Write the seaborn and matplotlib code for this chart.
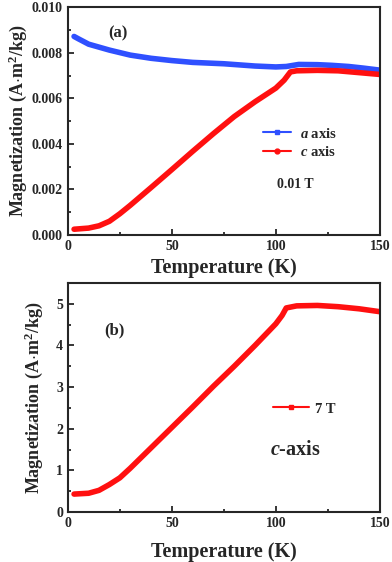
import numpy as np
import pandas as pd
import matplotlib
matplotlib.use("Agg")
import matplotlib.pyplot as plt
import seaborn as sns
from matplotlib.lines import Line2D
from matplotlib.ticker import MultipleLocator

# ---------------- data ----------------
temp_a = [3, 5, 10, 15, 20, 30, 40, 50, 60, 75, 90, 100, 105, 111, 120, 127, 135, 142, 150]
mag_a = [0.00872, 0.00862, 0.00838, 0.00825, 0.00812, 0.00790, 0.00776, 0.00766, 0.00758,
         0.00752, 0.00742, 0.00738, 0.00740, 0.00749, 0.00748, 0.00745, 0.00740, 0.00733, 0.00724]

temp_c = [3, 10, 15, 20, 25, 30, 40, 50, 60, 70, 80, 90, 100, 104, 107, 110, 120, 130, 140, 150]
mag_c = [0.00025, 0.00030, 0.00040, 0.00060, 0.00093, 0.00130, 0.00208, 0.00287, 0.00367,
         0.00445, 0.00520, 0.00585, 0.00645, 0.00680, 0.00716, 0.00721, 0.00723,
         0.00721, 0.00713, 0.00705]

temp_7t = [3, 10, 15, 20, 25, 30, 40, 50, 60, 70, 80, 90, 100, 103, 105, 110, 120, 130, 140, 150]
mag_7t = [0.43, 0.45, 0.52, 0.66, 0.82, 1.05, 1.54, 2.03, 2.52, 3.02, 3.50, 4.00, 4.52, 4.72,
          4.90, 4.95, 4.96, 4.93, 4.88, 4.81]

df_a = pd.DataFrame({"T": temp_a, "M": mag_a})
df_c = pd.DataFrame({"T": temp_c, "M": mag_c})
df_7t = pd.DataFrame({"T": temp_7t, "M": mag_7t})

# ---------------- style ----------------
sns.set_style("ticks")
plt.rcParams["font.family"] = ["Liberation Serif", "DejaVu Serif"]
plt.rcParams["font.weight"] = "bold"
plt.rcParams["mathtext.fontset"] = "custom"
plt.rcParams["mathtext.rm"] = "Liberation Serif:bold"
plt.rcParams["mathtext.it"] = "Liberation Serif:italic:bold"
plt.rcParams["mathtext.bf"] = "Liberation Serif:bold"

fig = plt.figure(figsize=(3.92, 5.62), dpi=100)
ax1 = fig.add_axes([0.173, 0.582, 0.796, 0.405])
ax2 = fig.add_axes([0.173, 0.089, 0.796, 0.4075])

blue = "#2f50ff"
red = "#ff1010"
lw = 4.0

# ---------------- panel (a) ----------------
sns.lineplot(data=df_a, x="T", y="M", ax=ax1, color=blue, linewidth=lw)
sns.lineplot(data=df_c, x="T", y="M", ax=ax1, color=red, linewidth=lw)
ax1.set_xlim(0, 150)
ax1.set_ylim(0, 0.010)
ax1.yaxis.set_major_locator(MultipleLocator(0.002))
ax1.yaxis.set_minor_locator(MultipleLocator(0.001))
ax1.yaxis.set_major_formatter(matplotlib.ticker.FormatStrFormatter("%.3f"))
ax1.set_ylabel(r"Magnetization (A$\cdot$m$^2$/kg)", fontsize=13, fontweight="bold", labelpad=2)
ax1.set_xlabel("Temperature (K)", fontsize=14.5, fontweight="bold", labelpad=4)
ax1.text(0.16, 0.886, "(a)", transform=ax1.transAxes, fontsize=12, fontweight="bold",
         ha="center", va="center")
ax1.text(0.73, 0.22, "0.01 T", transform=ax1.transAxes, fontsize=10, fontweight="bold",
         ha="center", va="center")
handles = [
    Line2D([], [], color=blue, lw=1.5, marker="s", markersize=3.5),
    Line2D([], [], color=red, lw=1.5, marker="o", markersize=3.5),
]
ax1.legend(handles, [r"$\mathit{a}$ axis", r"$\mathit{c}$ axis"], loc="center left",
           bbox_to_anchor=(0.585, 0.405), frameon=False, fontsize=10.5, handlelength=1.9,
           handletextpad=0.6, labelspacing=0.3)

# ---------------- panel (b) ----------------
sns.lineplot(data=df_7t, x="T", y="M", ax=ax2, color=red, linewidth=lw)
ax2.set_xlim(0, 150)
ax2.set_ylim(0, 5.5)
ax2.yaxis.set_major_locator(MultipleLocator(1))
ax2.yaxis.set_minor_locator(MultipleLocator(0.5))
ax2.set_ylabel(r"Magnetization (A$\cdot$m$^2$/kg)", fontsize=13, fontweight="bold", labelpad=8)
ax2.set_xlabel("Temperature (K)", fontsize=14.5, fontweight="bold", labelpad=9)
ax2.text(0.15, 0.795, "(b)", transform=ax2.transAxes, fontsize=12, fontweight="bold",
         ha="center", va="center")
ax2.text(0.728, 0.27, r"$\mathit{c}$-axis", transform=ax2.transAxes, fontsize=14.5,
         fontweight="bold", ha="center", va="center")
ax2.legend([Line2D([], [], color=red, lw=1.5, marker="s", markersize=3.5)], ["7 T"],
           loc="center left", bbox_to_anchor=(0.615, 0.45), frameon=False, fontsize=10.5,
           handlelength=2.5, handletextpad=0.4)

for ax in (ax1, ax2):
    ax.xaxis.set_major_locator(MultipleLocator(50))
    ax.xaxis.set_minor_locator(MultipleLocator(25))
    ax.tick_params(which="both", direction="in", top=False, right=False, width=1.3)
    ax.tick_params(which="major", length=4, labelsize=10)
    ax.tick_params(which="minor", length=2.5)
    for lab in ax.get_xticklabels() + ax.get_yticklabels():
        lab.set_fontweight("bold")
    for sp in ax.spines.values():
        sp.set_linewidth(1.5)
        sp.set_visible(True)

fig.savefig("out.png", dpi=100)
